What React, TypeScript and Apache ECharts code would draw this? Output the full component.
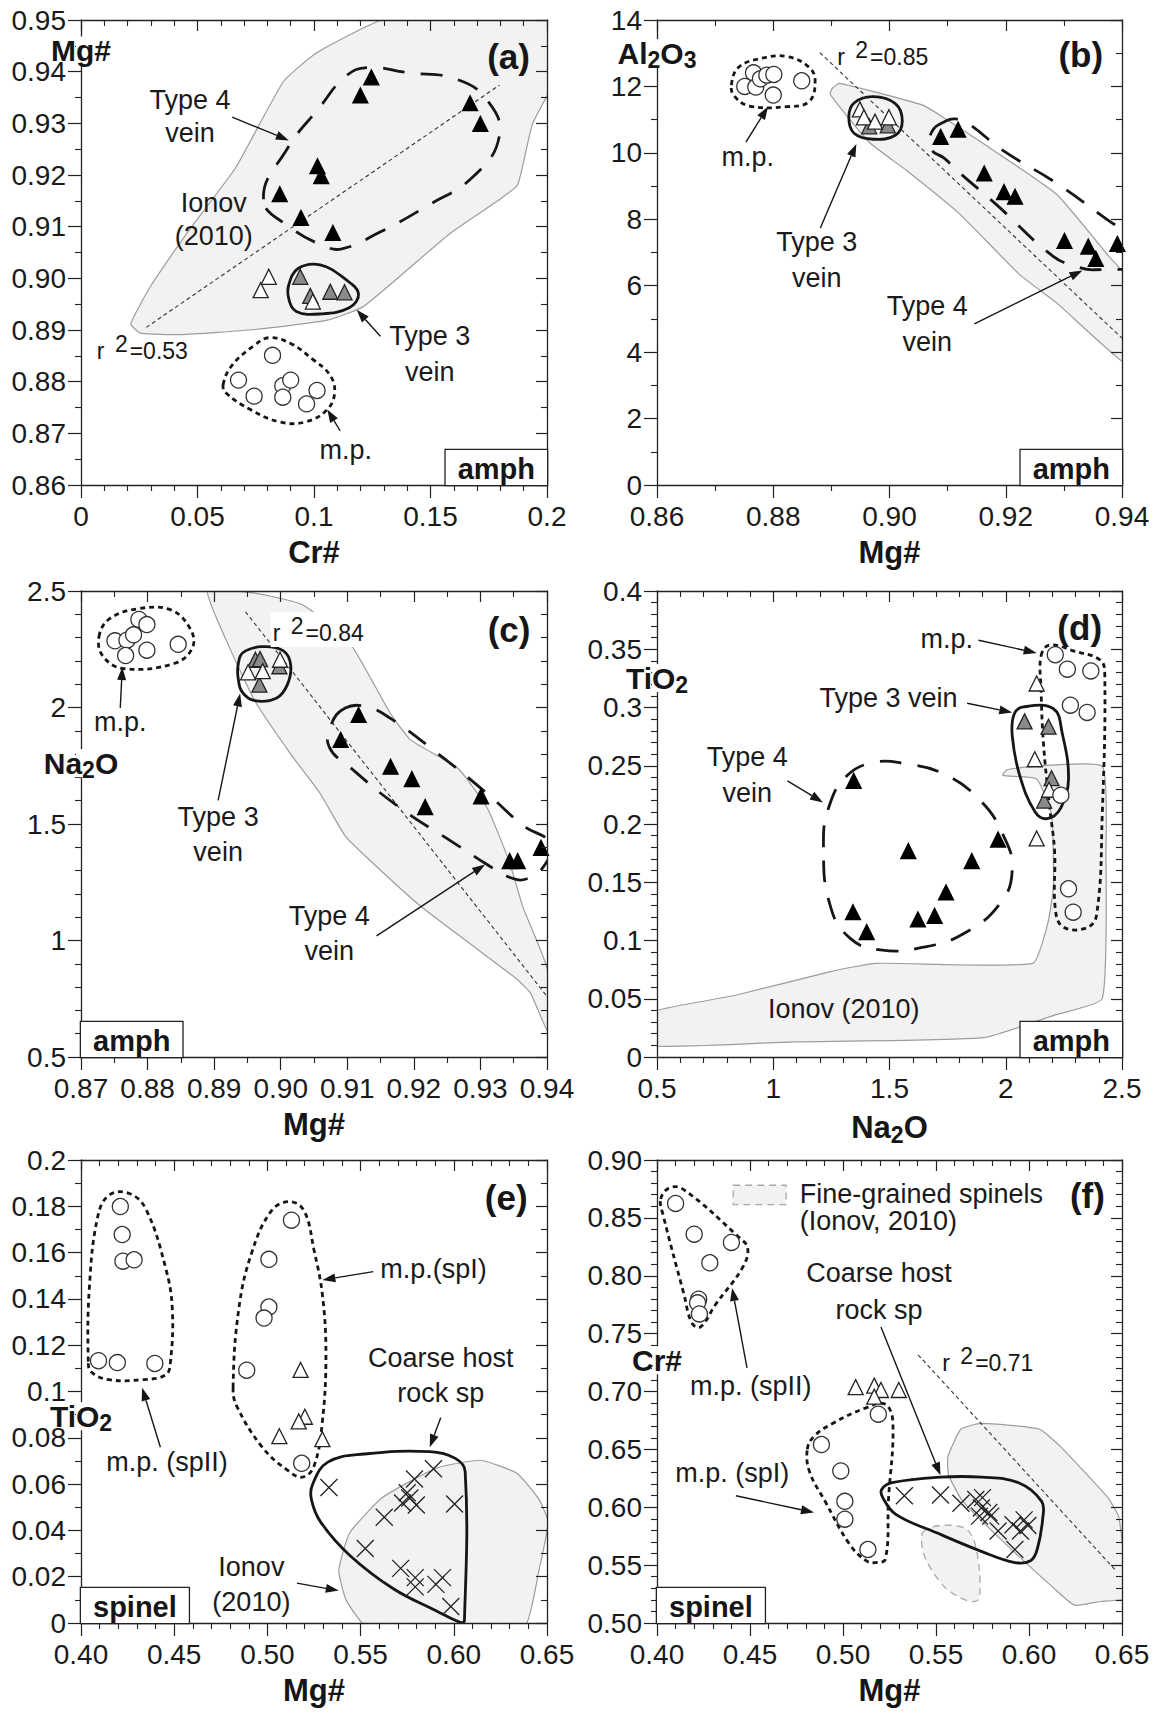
import React, { useEffect, useRef } from 'react';
import * as echarts from 'echarts';

const FONT = '"Liberation Sans", Arial, Helvetica, sans-serif';
type P = [number, number];

// ---------------- Panel (a): Cr# vs Mg# (amph) ----------------
const aVein4: P[] = [[0.1246,0.9389],[0.1199,0.9354],[0.1670,0.9339],[0.1714,0.9299],[0.1015,0.9217],[0.1031,0.9198],[0.0853,0.9163],[0.0944,0.9117],[0.1081,0.9088]];
const aVein3Grey: P[] = [[0.0941,0.9003],[0.0984,0.8966],[0.1070,0.8974],[0.1131,0.8973]];
const aWhiteTri: P[] = [[0.0806,0.9003],[0.0771,0.8977],[0.0995,0.8955]];
const aMP: P[] = [[0.0822,0.8851],[0.0676,0.8803],[0.0743,0.8772],[0.0866,0.8792],[0.0900,0.8803],[0.0866,0.8770],[0.1013,0.8783],[0.0968,0.8757]];
const aIonov: P[] = [[0.0214,0.8912],[0.0303,0.8988],[0.0460,0.9091],[0.0665,0.9215],[0.0869,0.9381],[0.1010,0.9436],[0.1293,0.9500],[0.2050,0.9550],[0.2050,0.9401],[0.1937,0.9298],[0.1874,0.9181],[0.1788,0.9150],[0.1576,0.9084],[0.1214,0.8946],[0.1057,0.8919],[0.0743,0.8901],[0.0429,0.8891],[0.0256,0.8894]];
const aVein4Env: P[] = [[0.0783,0.9153],[0.0884,0.9250],[0.1026,0.9332],[0.1136,0.9391],[0.1230,0.9408],[0.1403,0.9398],[0.1607,0.9386],[0.1741,0.9346],[0.1796,0.9277],[0.1686,0.9198],[0.1481,0.9139],[0.1277,0.9088],[0.1120,0.9057],[0.1042,0.9063],[0.0900,0.9098]];
const aVein3Env: P[] = [[0.0892,0.8988],[0.0932,0.9019],[0.1026,0.9026],[0.1136,0.8998],[0.1191,0.8970],[0.1151,0.8943],[0.1026,0.8931],[0.0924,0.8936],[0.0892,0.8960]];
const aMpEnv: P[] = [[0.0610,0.8794],[0.0649,0.8832],[0.0743,0.8870],[0.0806,0.8885],[0.0900,0.8874],[0.0995,0.8843],[0.1065,0.8815],[0.1089,0.8781],[0.1057,0.8746],[0.0963,0.8722],[0.0853,0.8722],[0.0727,0.8746],[0.0625,0.8777]];
const aR2: P[] = [[0.0280,0.8905],[0.1796,0.9374]];
const aArrows = [[0.0649,0.9312,0.0892,0.9267],[0.1285,0.8888,0.1183,0.8939],[0.1112,0.8705,0.1057,0.8746]];
const aNotes: [number, number, string][] = [[0.0468,0.9346,'Type 4'],[0.0468,0.9281,'vein'],[0.0570,0.9146,'Ionov'],[0.0570,0.9081,'(2010)'],[0.1497,0.8888,'Type 3'],[0.1497,0.8819,'vein'],[0.1136,0.8667,'m.p.']];

// ---------------- Panel (b): Mg# vs Al2O3 ----------------
const bMP: P[] = [[0.8766,12.41],[0.8751,12.00],[0.8770,11.98],[0.8778,12.23],[0.8789,12.34],[0.8801,12.36],[0.8800,11.74],[0.8849,12.17]];
const bVein3Grey: P[] = [[0.8965,10.80],[0.8997,10.83]];
const bWhiteTri: P[] = [[0.8949,11.31],[0.8956,11.07],[0.8975,10.94],[0.8999,11.07]];
const bVein4: P[] = [[0.9088,10.48],[0.9118,10.70],[0.9163,9.38],[0.9197,8.82],[0.9216,8.68],[0.9301,7.35],[0.9342,7.18],[0.9355,6.81],[0.9392,7.26]];
const bIonov: P[] = [[0.8901,11.93],[0.8914,12.09],[0.9055,11.45],[0.9088,11.12],[0.9158,10.32],[0.9287,8.76],[0.9377,6.89],[0.9420,6.00],[0.9420,3.50],[0.9287,5.49],[0.9223,6.35],[0.9120,8.17],[0.9030,9.46],[0.8965,10.32],[0.8914,11.39],[0.8898,11.77]];
const bVein4Env: P[] = [[0.9097,10.96],[0.9073,10.64],[0.9072,10.11],[0.9094,9.84],[0.9120,9.41],[0.9184,8.44],[0.9281,6.89],[0.9320,6.59],[0.9352,6.48],[0.9429,6.67],[0.9429,7.32],[0.9377,7.96],[0.9287,9.09],[0.9197,10.05],[0.9133,10.91],[0.9113,11.02]];
const bVein3Env: P[] = [[0.8930,11.07],[0.8939,11.50],[0.8972,11.69],[0.9010,11.48],[0.9022,10.96],[0.9010,10.53],[0.8972,10.41],[0.8939,10.59]];
const bMpEnv: P[] = [[0.8728,12.04],[0.8740,12.57],[0.8778,12.84],[0.8824,12.90],[0.8862,12.57],[0.8872,12.17],[0.8862,11.55],[0.8824,11.39],[0.8759,11.41],[0.8733,11.71]];
const bR2: P[] = [[0.8880,13.02],[0.9400,4.42]];
const bArrows = [[0.8753,10.32,0.8791,11.39],[0.8881,7.74,0.8943,10.27],[0.9146,4.85,0.9332,6.46]];
const bNotes: [number, number, string][] = [[0.8756,9.89,'m.p.'],[0.8875,7.32,'Type 3'],[0.8875,6.24,'vein'],[0.9065,5.38,'Type 4'],[0.9065,4.31,'vein']];

// ---------------- Panel (c): Mg# vs Na2O ----------------
const cMP: P[] = [[0.8751,2.286],[0.8769,2.289],[0.8779,2.312],[0.8787,2.378],[0.8799,2.356],[0.8767,2.223],[0.8799,2.246],[0.8846,2.271]];
const cVein3Grey: P[] = [[0.8962,2.205],[0.8969,2.208],[0.8968,2.098],[0.8998,2.177]];
const cWhiteTri: P[] = [[0.8951,2.151],[0.8973,2.156],[0.8999,2.205]];
const cVein4: P[] = [[0.9090,1.861],[0.9117,1.968],[0.9165,1.746],[0.9197,1.693],[0.9217,1.573],[0.9301,1.619],[0.9344,1.341],[0.9356,1.341],[0.9391,1.398]];
const cIonov: P[] = [[0.8890,2.500],[0.8961,2.491],[0.9032,2.442],[0.9103,2.281],[0.9163,1.983],[0.9195,1.861],[0.9266,1.739],[0.9310,1.570],[0.9343,1.341],[0.9364,1.142],[0.9400,0.882],[0.9402,0.607],[0.9375,0.775],[0.9354,0.836],[0.9283,0.989],[0.9206,1.157],[0.9135,1.341],[0.9097,1.448],[0.9059,1.632],[0.9015,1.800],[0.8961,2.029],[0.8923,2.258]];
const cVein4Env: P[] = [[0.9097,1.998],[0.9075,1.922],[0.9073,1.830],[0.9103,1.746],[0.9179,1.570],[0.9261,1.417],[0.9310,1.326],[0.9343,1.272],[0.9370,1.265],[0.9397,1.326],[0.9405,1.417],[0.9364,1.494],[0.9310,1.631],[0.9234,1.807],[0.9165,1.953],[0.9130,2.002]];
const cVein3Env: P[] = [[0.8936,2.182],[0.8943,2.235],[0.8972,2.261],[0.9004,2.243],[0.9015,2.182],[0.9010,2.098],[0.8994,2.041],[0.8961,2.029],[0.8942,2.067],[0.8936,2.128]];
const cMpEnv: P[] = [[0.8727,2.304],[0.8743,2.381],[0.8786,2.424],[0.8835,2.419],[0.8863,2.343],[0.8868,2.261],[0.8841,2.190],[0.8764,2.167],[0.8733,2.220]];
const cR2: P[] = [[0.8947,2.411],[0.9400,0.760]];
const cArrows = [[0.8759,1.998,0.8762,2.174],[0.8906,1.601,0.8939,2.060],[0.9144,1.020,0.9307,1.326]];
const cNotes: [number, number, string][] = [[0.8759,1.937,'m.p.'],[0.8906,1.532,'Type 3'],[0.8906,1.379,'vein'],[0.9073,1.104,'Type 4'],[0.9073,0.954,'vein']];

// ---------------- Panel (d): Na2O vs TiO2 ----------------
const dVein4: P[] = [[1.346,0.2371],[1.967,0.1867],[1.581,0.1768],[1.854,0.1682],[1.743,0.1413],[1.343,0.1243],[1.694,0.1212],[1.622,0.1181],[1.402,0.1073]];
const dVein3Grey: P[] = [[2.081,0.2881],[2.184,0.2835],[2.197,0.2393],[2.165,0.2201]];
const dWhiteTri: P[] = [[2.133,0.3206],[2.125,0.2556],[2.186,0.2294],[2.133,0.1876]];
const dMP: P[] = [[2.213,0.3453],[2.265,0.3329],[2.366,0.3314],[2.278,0.3020],[2.350,0.2958],[2.237,0.2247],[2.270,0.1444],[2.290,0.1243]];
const dIonov: P[] = [[0.45,0.0370],[0.843,0.0532],[1.246,0.0733],[1.440,0.0804],[2.116,0.0804],[2.181,0.1150],[2.205,0.1459],[2.197,0.2077],[2.133,0.2386],[1.987,0.2417],[2.004,0.2464],[2.116,0.2495],[2.415,0.2495],[2.431,0.1768],[2.415,0.0501],[2.213,0.0362],[1.907,0.0167],[1.085,0.0130],[0.45,0.0099]];
const dVein4Env: P[] = [[1.216,0.1800],[1.240,0.2150],[1.320,0.2420],[1.440,0.2530],[1.560,0.2520],[1.730,0.2433],[1.891,0.2201],[1.990,0.1900],[2.028,0.1614],[1.980,0.1330],[1.820,0.1060],[1.640,0.0940],[1.460,0.0920],[1.330,0.1020],[1.245,0.1300]];
const dVein3Env: P[] = [[2.036,0.2943],[2.076,0.3005],[2.205,0.2989],[2.242,0.2788],[2.270,0.2386],[2.237,0.2139],[2.178,0.2046],[2.125,0.2108],[2.060,0.2417],[2.028,0.2757]];
const dMpEnv: P[] = [[2.152,0.3444],[2.189,0.3536],[2.294,0.3484],[2.407,0.3406],[2.426,0.3283],[2.415,0.2077],[2.390,0.1212],[2.342,0.1104],[2.245,0.1119],[2.213,0.1274],[2.210,0.1768],[2.189,0.2139],[2.162,0.2696],[2.152,0.3159]];
const dArrows = [[1.883,0.3577,2.133,0.3468],[1.834,0.3036,2.028,0.2958],[1.061,0.2371,1.214,0.2185]];
const dNotes: [number, number, string][] = [[1.746,0.3592,'m.p.'],[1.496,0.3082,'Type 3 vein'],[0.888,0.2572,'Type 4'],[0.888,0.2263,'vein'],[1.303,0.0408,'Ionov (2010)']];

// ---------------- Panel (e): Mg# vs TiO2 (spinel) ----------------
const eSpII: P[] = [[0.4211,0.1799],[0.4221,0.1678],[0.4225,0.1563],[0.4285,0.1569],[0.4094,0.1133],[0.4195,0.1125],[0.4396,0.1121]];
const eSpI: P[] = [[0.5129,0.1740],[0.5008,0.1571],[0.5008,0.1365],[0.4982,0.1317],[0.4889,0.1092],[0.5184,0.0690]];
const eTri: P[] = [[0.5178,0.1093],[0.5201,0.0891],[0.5168,0.0871],[0.5064,0.0807],[0.5295,0.0794]];
const eHost: P[] = [[0.5330,0.0585],[0.5891,0.0666],[0.5789,0.0622],[0.5750,0.0563],[0.5764,0.0540],[0.5725,0.0518],[0.5799,0.0510],[0.6004,0.0514],[0.5627,0.0457],[0.5525,0.0322],[0.5715,0.0236],[0.5793,0.0196],[0.5793,0.0156],[0.5939,0.0196],[0.5904,0.0167],[0.5984,0.0071]];
const eIonov: P[] = [[0.5383,0.0228],[0.5441,0.0389],[0.5617,0.0542],[0.5910,0.0670],[0.6145,0.0703],[0.6340,0.0646],[0.6457,0.0534],[0.6506,0.0437],[0.6457,0.0228],[0.6369,-0.0030],[0.5549,-0.0030],[0.5422,0.0100]];
const eSpIIEnv: P[] = [[0.4039,0.1129],[0.4045,0.1450],[0.4090,0.1756],[0.4152,0.1849],[0.4260,0.1855],[0.4348,0.1788],[0.4455,0.1531],[0.4490,0.1354],[0.4480,0.1129],[0.4455,0.1072],[0.4328,0.1051],[0.4152,0.1051],[0.4055,0.1084]];
const eSpIEnv: P[] = [[0.4816,0.1016],[0.4846,0.1354],[0.4914,0.1595],[0.5021,0.1780],[0.5119,0.1820],[0.5197,0.1780],[0.5250,0.1611],[0.5295,0.1418],[0.5314,0.1161],[0.5295,0.0871],[0.5250,0.0678],[0.5188,0.0630],[0.5109,0.0659],[0.4973,0.0759],[0.4836,0.0936]];
const eHostEnv: P[] = [[0.5242,0.0598],[0.5324,0.0695],[0.5520,0.0730],[0.5871,0.0740],[0.6008,0.0711],[0.6061,0.0654],[0.6057,0.0010],[0.6037,0.0002],[0.5910,0.0051],[0.5676,0.0148],[0.5441,0.0293],[0.5285,0.0437],[0.5236,0.0534]];
const eArrows = [[0.4426,0.0759,0.4328,0.1016],[0.5568,0.1518,0.5295,0.1482],[0.5930,0.0887,0.5871,0.0759],[0.5158,0.0172,0.5383,0.0140]];
const eNotes: [number, number, string][] = [[0.4461,0.0695,'m.p. (spII)'],[0.5891,0.1527,'m.p.(spI)'],[0.5930,0.1145,'Coarse host'],[0.5930,0.0992,'rock sp'],[0.4914,0.0244,'Ionov'],[0.4914,0.0092,'(2010)']];

// ---------------- Panel (f): Mg# vs Cr# (spinel) ----------------
const fSpII: P[] = [[0.4100,0.8625],[0.4200,0.8359],[0.4400,0.8288],[0.4284,0.8112],[0.4224,0.7798],[0.4218,0.7766],[0.4228,0.7670]];
const fSpI: P[] = [[0.4884,0.6542],[0.4988,0.6314],[0.5010,0.6051],[0.5010,0.5897],[0.5190,0.6804],[0.5134,0.5635]];
const fTri: P[] = [[0.5068,0.7038],[0.5168,0.7051],[0.5204,0.7013],[0.5300,0.7013],[0.5168,0.6955]];
const fHost: P[] = [[0.5330,0.6099],[0.5524,0.6106],[0.5634,0.6035],[0.5714,0.6067],[0.5750,0.6083],[0.5744,0.5994],[0.5784,0.5955],[0.5794,0.5923],[0.5734,0.5923],[0.5834,0.5795],[0.5914,0.5849],[0.5974,0.5891],[0.5994,0.5843],[0.5924,0.5635],[0.5954,0.5795]];
const fIonov: P[] = [[0.5564,0.6436],[0.5634,0.6676],[0.5744,0.6724],[0.6054,0.6676],[0.6164,0.6532],[0.6424,0.6083],[0.6484,0.5907],[0.6520,0.5218],[0.6384,0.5186],[0.6244,0.5154],[0.6124,0.5314],[0.5864,0.5699],[0.5644,0.6051],[0.5568,0.6276]];
const fFine: P[] = [[0.5428,0.5779],[0.5524,0.5843],[0.5654,0.5821],[0.5704,0.5715],[0.5734,0.5442],[0.5728,0.5202],[0.5668,0.5192],[0.5544,0.5314],[0.5440,0.5571]];
const fSpIIEnv: P[] = [[0.4020,0.8663],[0.4068,0.8760],[0.4144,0.8744],[0.4444,0.8327],[0.4488,0.8237],[0.4460,0.8071],[0.4314,0.7750],[0.4234,0.7558],[0.4188,0.7590],[0.4144,0.7846],[0.4034,0.8519]];
const fSpIEnv: P[] = [[0.4808,0.6500],[0.4844,0.6612],[0.4944,0.6724],[0.5124,0.6859],[0.5224,0.6891],[0.5268,0.6740],[0.5244,0.6051],[0.5228,0.5554],[0.5174,0.5522],[0.5124,0.5538],[0.5034,0.5683],[0.4904,0.6051],[0.4820,0.6308]];
const fHostEnv: P[] = [[0.5208,0.6154],[0.5264,0.6212],[0.5524,0.6260],[0.5744,0.6260],[0.5944,0.6212],[0.6068,0.6051],[0.6074,0.5907],[0.6044,0.5635],[0.6008,0.5538],[0.5924,0.5522],[0.5744,0.5619],[0.5504,0.5779],[0.5284,0.5939],[0.5214,0.6083]];
const fR2: P[] = [[0.5404,0.7317],[0.6464,0.5458]];
const fLegendBox: P[] = [[0.4410,0.8782],[0.4694,0.8615]];
const fArrows = [[0.4484,0.7205,0.4404,0.7894],[0.4424,0.6099,0.4844,0.5955],[0.5204,0.7558,0.5524,0.6276]];
const fNotes: [number, number, string][] = [[0.5194,0.8022,'Coarse host'],[0.5194,0.7702,'rock sp'],[0.4504,0.7051,'m.p. (spII)'],[0.4404,0.6292,'m.p. (spI)']];
const fLegendText: [number, number, string][] = [[0.4768,0.8705,'Fine-grained spinels'],[0.4768,0.8471,'(Ionov, 2010)']];

// ---------------- Panel layout ----------------
const PANELS: any[] = [
  { grid: { left: 81, top: 20, width: 466, height: 465 }, x: [0, 0.2, 0.05, 5, -1], y: [0.86, 0.95, 0.01, 2, 2], xName: 'Cr#',
    yTitle: [0, 0.9441, 'Mg#'], tag: [0.1835, 0.9429, '(a)'], box: ['amph', 'br'], r2: [0.0068, 0.8867, '0.53', false] },
  { grid: { left: 657, top: 20, width: 465, height: 465 }, x: [0.86, 0.94, 0.02, 2, 2], y: [0, 14, 2, 2, -1], xName: 'Mg#',
    yTitle: [0.86, 13.0, '{b|Al}{s|2}{b|O}{s|3}'], tag: [0.9329, 12.95, '(b)'], box: ['amph', 'br'], r2: [0.8910, 13.0, '0.85', false] },
  { grid: { left: 81, top: 591, width: 466, height: 466 }, x: [0.87, 0.94, 0.01, 2, 2], y: [0.5, 2.5, 0.5, 5, -1], xName: 'Mg#',
    yTitle: [0.87, 1.761, '{b|Na}{s|2}{b|O}'], tag: [0.9343, 2.335, '(c)'], box: ['amph', 'bl'], r2: [0.8985, 2.335, '0.84', true] },
  { grid: { left: 657, top: 591, width: 465, height: 466 }, x: [0.5, 2.5, 0.5, 5, -1], y: [0, 0.4, 0.05, 5, -1], xName: '{b|Na}{s|2}{b|O}',
    yTitle: [0.5, 0.3252, '{b|TiO}{s|2}'], tag: [2.318, 0.3685, '(d)'], box: ['amph', 'br'], r2: null },
  { grid: { left: 81, top: 1160, width: 466, height: 463 }, x: [0.4, 0.65, 0.05, 5, 2], y: [0, 0.2, 0.02, 2, -1], xName: 'Mg#',
    yTitle: [0.4, 0.0893, '{b|TiO}{s|2}'], tag: [0.6281, 0.1836, '(e)'], box: ['spinel', 'bl'], r2: null },
  { grid: { left: 657, top: 1160, width: 465, height: 463 }, x: [0.4, 0.65, 0.05, 5, 2], y: [0.5, 0.9, 0.05, 5, 2], xName: 'Mg#',
    yTitle: [0.4, 0.7270, 'Cr#'], tag: [0.6314, 0.8696, '(f)'], box: ['spinel', 'bl'], r2: [0.5534, 0.7285, '0.71', false] },
];

const PANEL_DATA: any[] = [
  { regions: [[aIonov, 'ionov'], [aR2, 'r2'], [aVein4Env, 'v4'], [aVein3Env, 'solid'], [aMpEnv, 'mp']],
    pts: [[aVein4, 'black'], [aVein3Grey, 'grey'], [aWhiteTri, 'white'], [aMP, 'circle']], arrows: aArrows, notes: aNotes },
  { regions: [[bIonov, 'ionov'], [bR2, 'r2'], [bVein4Env, 'v4'], [bVein3Env, 'solid'], [bMpEnv, 'mp']],
    pts: [[bVein4, 'black'], [bVein3Grey, 'grey'], [bWhiteTri, 'white'], [bMP, 'circle']], arrows: bArrows, notes: bNotes },
  { regions: [[cIonov, 'ionov'], [cR2, 'r2'], [cVein4Env, 'v4'], [cVein3Env, 'solid'], [cMpEnv, 'mp']],
    pts: [[cVein4, 'black'], [cVein3Grey, 'grey'], [cWhiteTri, 'white'], [cMP, 'circle']], arrows: cArrows, notes: cNotes },
  { regions: [[dIonov, 'ionov'], [dVein4Env, 'v4'], [dMpEnv, 'mp'], [dVein3Env, 'solid']],
    pts: [[dVein4, 'black'], [dVein3Grey, 'grey'], [dWhiteTri, 'white'], [dMP, 'circle']], arrows: dArrows, notes: dNotes },
  { regions: [[eIonov, 'ionov'], [eSpIIEnv, 'mp'], [eSpIEnv, 'mp'], [eHostEnv, 'solid']],
    pts: [[eSpII, 'circle'], [eSpI, 'circle'], [eTri, 'white'], [eHost, 'cross']], arrows: eArrows, notes: eNotes },
  { regions: [[fIonov, 'ionov'], [fFine, 'fine'], [fR2, 'r2'], [fSpIIEnv, 'mp'], [fSpIEnv, 'mp'], [fHostEnv, 'solid']],
    pts: [[fSpII, 'circle'], [fSpI, 'circle'], [fTri, 'white'], [fHost, 'cross']], arrows: fArrows, notes: fNotes, legend: true },
];

const INK = '#161616';
const REGION_STYLE: any = {
  ionov: { z: 1, closed: true, smooth: 0.15, fill: '#f2f2f2', stroke: '#9c9c9c', lw: 1.2, dash: null },
  fine: { z: 1, closed: true, smooth: 0.3, fill: '#f2f2f2', stroke: '#a8a8a8', lw: 1.3, dash: [7, 5] },
  r2: { z: 2, closed: false, smooth: 0, fill: 'none', stroke: '#333', lw: 1.1, dash: [4, 3] },
  v4: { z: 3, closed: true, smooth: 0.45, fill: 'none', stroke: INK, lw: 2.8, dash: [22, 16] },
  solid: { z: 3, closed: true, smooth: 0.4, fill: 'none', stroke: INK, lw: 2.8, dash: null },
  mp: { z: 3, closed: true, smooth: 0.4, fill: 'none', stroke: INK, lw: 2.8, dash: [5, 4] },
};
const POINT_STYLE: any = {
  black: { symbol: 'triangle', size: 15, color: '#000', border: '#000' },
  grey: { symbol: 'triangle', size: 15, color: '#8a8a8a', border: '#222' },
  white: { symbol: 'triangle', size: 15, color: '#fff', border: '#222' },
  circle: { symbol: 'circle', size: 16, color: '#fff', border: '#333' },
  cross: { symbol: 'path://M0 0L10 10M10 0L0 10', size: 17, color: 'rgba(0,0,0,0)', border: '#222' },
};

const richBold = (size: number) => ({
  b: { fontSize: size, fontWeight: 'bold', fontFamily: FONT, fill: INK, color: INK },
  s: { fontSize: Math.round(size * 0.75), fontWeight: 'bold', fontFamily: FONT, fill: INK, color: INK, padding: [14, 0, 0, 0] },
});

function mainAxis(pos: string, gi: number, spec: any[], name?: string) {
  const [min, max, interval, split, digits] = spec;
  const isX = pos === 'bottom';
  return {
    type: 'value', gridIndex: gi, position: pos, min, max, interval, z: 10,
    axisLine: { show: true, onZero: false, lineStyle: { color: '#222', width: 1.3 } },
    axisTick: { show: true, inside: false, length: 13, lineStyle: { color: '#222', width: 1.2 } },
    minorTick: { show: true, splitNumber: split, length: 6, lineStyle: { color: '#222', width: 1.1 } },
    splitLine: { show: false }, minorSplitLine: { show: false },
    axisLabel: {
      show: true, margin: isX ? 17 : 15, fontSize: 28, fontFamily: FONT, color: '#1a1a1a',
      formatter: digits >= 0 ? (v: number) => v.toFixed(digits) : undefined,
    },
    name: name || '', nameLocation: 'middle', nameGap: isX ? 52 : 40,
    nameTextStyle: { fontSize: 31, fontWeight: 'bold', fontFamily: FONT, color: INK, rich: richBold(31) },
  };
}
function mirrorAxis(pos: string, gi: number, spec: any[]) {
  const [min, max, interval, split] = spec;
  return {
    type: 'value', gridIndex: gi, position: pos, min, max, interval, z: 10,
    axisLine: { show: true, onZero: false, lineStyle: { color: '#222', width: 1.3 } },
    axisTick: { show: true, inside: true, length: 11, lineStyle: { color: '#222', width: 1.2 } },
    minorTick: { show: true, splitNumber: split, length: 6, lineStyle: { color: '#222', width: 1.1 } },
    splitLine: { show: false }, minorSplitLine: { show: false },
    axisLabel: { show: false },
  };
}

function regionSeries(i: number, pts: P[], kind: string) {
  const st = REGION_STYLE[kind];
  return {
    type: 'custom', xAxisIndex: 2 * i, yAxisIndex: 2 * i, z: st.z, clip: true, silent: true,
    data: [pts[0]],
    renderItem: (_p: any, api: any) => ({
      type: st.closed ? 'polygon' : 'polyline',
      shape: { points: pts.map((q) => api.coord(q)), smooth: st.smooth },
      style: { fill: st.fill, stroke: st.stroke, lineWidth: st.lw, lineDash: st.dash },
    }),
  };
}

function pointSeries(i: number, pts: P[], kind: string) {
  const st = POINT_STYLE[kind];
  return {
    type: 'scatter', xAxisIndex: 2 * i, yAxisIndex: 2 * i, z: 4, silent: true,
    symbol: st.symbol, symbolSize: st.size,
    itemStyle: { color: st.color, borderColor: st.border, borderWidth: 1.3, opacity: 1 },
    data: pts,
  };
}

function arrowSeries(i: number, arrows: number[][]) {
  return {
    type: 'custom', xAxisIndex: 2 * i, yAxisIndex: 2 * i, z: 5, clip: false, silent: true,
    data: arrows.map((a) => [a[0], a[1]]),
    renderItem: (params: any, api: any) => {
      const a = arrows[params.dataIndex];
      const p0 = api.coord([a[0], a[1]]);
      const p1 = api.coord([a[2], a[3]]);
      const dx = p1[0] - p0[0], dy = p1[1] - p0[1];
      const L = Math.hypot(dx, dy) || 1;
      const ux = dx / L, uy = dy / L;
      const hl = 13, hw = 4.5;
      const bx = p1[0] - ux * hl, by = p1[1] - uy * hl;
      return {
        type: 'group',
        children: [
          { type: 'line', shape: { x1: p0[0], y1: p0[1], x2: bx, y2: by }, style: { stroke: INK, lineWidth: 1.4 } },
          { type: 'polygon', shape: { points: [[p1[0], p1[1]], [bx - uy * hw, by + ux * hw], [bx + uy * hw, by - ux * hw]] }, style: { fill: INK } },
        ],
      };
    },
  };
}

function textSeries(i: number, items: any[]) {
  return {
    type: 'custom', xAxisIndex: 2 * i, yAxisIndex: 2 * i, z: 12, clip: false, silent: true,
    data: items.map((it) => [it.x, it.y]),
    renderItem: (params: any, api: any) => {
      const it = items[params.dataIndex];
      const c = api.coord([it.x, it.y]);
      const txt = { type: 'text', x: c[0], y: c[1], style: { text: it.text, ...it.style } };
      if (!it.mask) return txt;
      const [w, h] = it.mask;
      return {
        type: 'group',
        children: [
          { type: 'rect', shape: { x: c[0] - w / 2, y: c[1] - h / 2, width: w, height: h }, style: { fill: '#fff' } },
          txt,
        ],
      };
    },
  };
}

function buildOption() {
  const grid: any[] = [], xAxis: any[] = [], yAxis: any[] = [], series: any[] = [];
  PANELS.forEach((p, i) => {
    const d = PANEL_DATA[i];
    grid.push({ ...p.grid, containLabel: false, outerBoundsMode: 'none', show: false });
    xAxis.push(mainAxis('bottom', i, p.x, p.xName));
    xAxis.push(mirrorAxis('top', i, p.x));
    yAxis.push(mainAxis('left', i, p.y));
    yAxis.push(mirrorAxis('right', i, p.y));

    d.regions.forEach((r: any) => series.push(regionSeries(i, r[0], r[1])));
    if (d.legend) {
      series.push({
        type: 'custom', xAxisIndex: 2 * i, yAxisIndex: 2 * i, z: 3, clip: false, silent: true,
        data: [fLegendBox[0]],
        renderItem: (_p: any, api: any) => {
          const c0 = api.coord(fLegendBox[0]);
          const c1 = api.coord(fLegendBox[1]);
          return {
            type: 'rect',
            shape: { x: c0[0], y: c0[1], width: c1[0] - c0[0], height: c1[1] - c0[1] },
            style: { fill: '#f2f2f2', stroke: '#a8a8a8', lineWidth: 1.3, lineDash: [7, 5] },
          };
        },
      });
    }
    d.pts.forEach((s: any) => series.push(pointSeries(i, s[0], s[1])));
    series.push(arrowSeries(i, d.arrows));

    const noteStyle = { fill: '#1a1a1a', fontSize: 27, fontFamily: FONT, align: 'center', verticalAlign: 'middle' };
    const items: any[] = d.notes.map((n: any) => ({ x: n[0], y: n[1], text: n[2], style: noteStyle }));
    if (d.legend) {
      fLegendText.forEach((n) => items.push({ x: n[0], y: n[1], text: n[2], style: { ...noteStyle, align: 'left' } }));
    }
    items.push({ x: p.tag[0], y: p.tag[1], text: p.tag[2],
      style: { fill: INK, fontSize: 35, fontWeight: 'bold', fontFamily: FONT, align: 'center', verticalAlign: 'middle' } });
    items.push({ x: p.yTitle[0], y: p.yTitle[1], text: p.yTitle[2], mask: [10, 28],
      style: { fill: INK, fontSize: 30, fontWeight: 'bold', fontFamily: FONT, align: 'center', verticalAlign: 'middle',
        lineHeight: 24, rich: richBold(30) } });
    if (p.r2) {
      items.push({ x: p.r2[0], y: p.r2[1], text: '{r|r }{p|2}{r|=' + p.r2[2] + '}',
        style: { fill: INK, fontSize: 23, fontFamily: FONT, align: 'left', verticalAlign: 'middle',
          backgroundColor: p.r2[3] ? '#fff' : undefined, padding: p.r2[3] ? [2, 4, 2, 2] : 0,
          rich: { r: { fontSize: 23, fontFamily: FONT, fill: INK, color: INK, padding: [8, 0, 0, 0] },
                  p: { fontSize: 23, fontFamily: FONT, fill: INK, color: INK, padding: [0, 2, 6, 4] } } } });
    }
    const right = p.box[1] === 'br';
    items.push({ x: right ? p.x[1] : p.x[0], y: p.y[0], text: p.box[0],
      style: { fill: INK, fontSize: 29, fontWeight: 'bold', fontFamily: FONT, align: right ? 'right' : 'left', verticalAlign: 'bottom',
        backgroundColor: '#fff', borderColor: '#222', borderWidth: 1.3, padding: [4, 12, 2, 12] } });
    series.push(textSeries(i, items));
  });
  return { animation: false, backgroundColor: '#fff', grid, xAxis, yAxis, series };
}

export default function App() {
  const ref = useRef<HTMLDivElement>(null);
  useEffect(() => {
    if (!ref.current) return;
    const chart = echarts.init(ref.current, undefined, { renderer: 'svg' });
    chart.setOption(buildOption() as any);
    return () => chart.dispose();
  }, []);
  return <div ref={ref} style={{ position: 'absolute', left: 0, top: 0, width: 1157, height: 1715, background: '#fff' }} />;
}
